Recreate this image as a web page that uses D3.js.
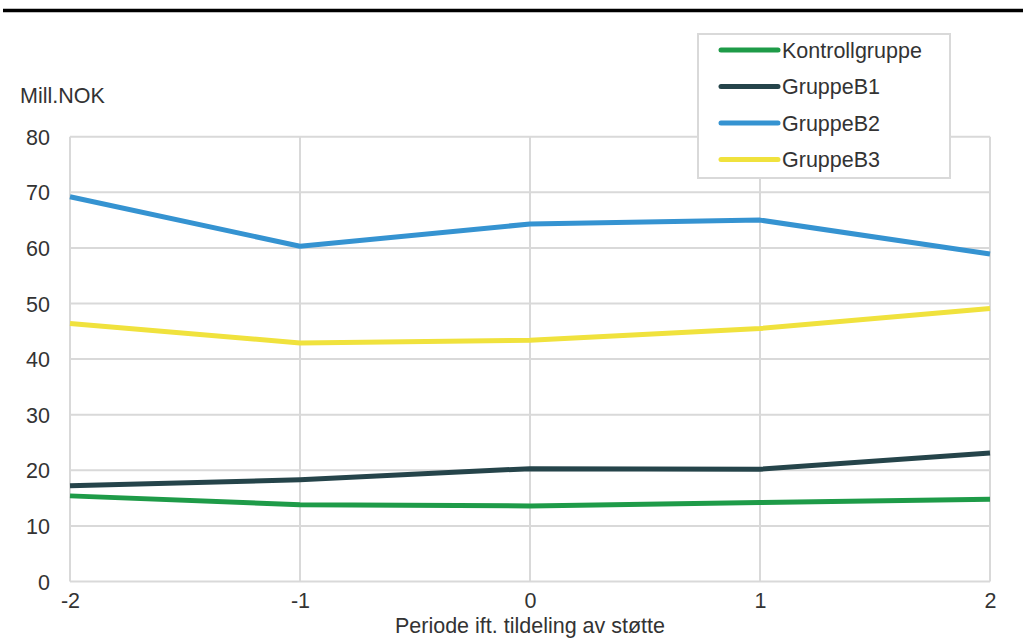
<!DOCTYPE html>
<html><head><meta charset="utf-8">
<script src="https://cdn.jsdelivr.net/npm/d3@7/dist/d3.min.js"></script>
<style>body{margin:0;background:#fff}svg{display:block}text{font-family:"Liberation Sans",Arial,sans-serif;fill:#333}</style>
</head><body><svg id="c" width="1023" height="639"></svg>
<script>
const periods = [-2, -1, 0, 1, 2];
const seriesNames = ["Kontrollgruppe", "GruppeB1", "GruppeB2", "GruppeB3"];
const kontroll = [15.4, 13.8, 13.6, 14.2, 14.8];
const gruppeB1 = [17.2, 18.3, 20.3, 20.2, 23.1];
const gruppeB2 = [69.2, 60.3, 64.3, 65.0, 58.9];
const gruppeB3 = [46.4, 42.9, 43.4, 45.5, 49.1];
const yTicks = [0, 10, 20, 30, 40, 50, 60, 70, 80];
const colors = ["#1e9b48", "#25444a", "#3593d1", "#f0e23d"];
const yLabel = "Mill.NOK";
const xLabel = "Periode ift. tildeling av støtte";

const svg = d3.select("#c");
const x = d3.scaleLinear().domain([-2, 2]).range([70, 990]);
const y = d3.scaleLinear().domain([0, 80]).range([581.5, 136.7]);
const FS = "21.5px";

// top rule
svg.append("line").attr("x1", 3).attr("x2", 1023).attr("y1", 10.5).attr("y2", 10.5)
  .attr("stroke", "#000").attr("stroke-width", 3.5);

// grid
const g = svg.append("g");
g.selectAll(".h").data(yTicks).join("line")
  .attr("x1", x(-2)).attr("x2", x(2)).attr("y1", d => y(d)).attr("y2", d => y(d))
  .attr("stroke", "#d9d9d9").attr("stroke-width", 2);
g.selectAll(".v").data(periods).join("line")
  .attr("x1", d => x(d)).attr("x2", d => x(d)).attr("y1", y(0)).attr("y2", y(80))
  .attr("stroke", "#d9d9d9").attr("stroke-width", 2);

// axes labels
const yAxis = d3.axisLeft(y).tickValues(yTicks).tickSize(0).tickPadding(0);
const ya = svg.append("g").attr("transform", "translate(50,0)").call(yAxis);
ya.select(".domain").remove();
ya.selectAll("text").style("font-size", FS).attr("fill", "#333").attr("dy", "0.35em");

const xAxis = d3.axisBottom(x).tickValues(periods).tickSize(0).tickPadding(0).tickFormat(d3.format("d"));
const xa = svg.append("g").attr("transform", "translate(0,608)").call(xAxis);
xa.select(".domain").remove();
xa.selectAll("text").style("font-size", FS).attr("fill", "#333").attr("dy", "0")
  .text(d => d < 0 ? "-" + Math.abs(d) : d);

svg.append("text").attr("x", 20).attr("y", 103).style("font-size", FS).text(yLabel);
svg.append("text").attr("x", x(0)).attr("y", 633).attr("text-anchor", "middle").style("font-size", FS).text(xLabel);

// lines
const data = [kontroll, gruppeB1, gruppeB2, gruppeB3];
const line = d3.line().x((d, i) => x(periods[i])).y(d => y(d));
svg.selectAll(".s").data(data).join("path")
  .attr("d", line).attr("fill", "none").attr("stroke", (d, i) => colors[i])
  .attr("stroke-width", 5).attr("stroke-linejoin", "round").attr("stroke-linecap", "butt");

// legend
const lg = svg.append("g");
lg.append("rect").attr("x", 698).attr("y", 34).attr("width", 252).attr("height", 144)
  .attr("fill", "#fff").attr("stroke", "#d9d9d9").attr("stroke-width", 2);
const items = lg.selectAll(".li").data(seriesNames).join("g")
  .attr("transform", (d, i) => `translate(0,${50 + i * 36.5})`);
items.append("line").attr("x1", 721).attr("x2", 778).attr("y1", 0).attr("y2", 0)
  .attr("stroke", (d, i) => colors[i]).attr("stroke-width", 5).attr("stroke-linecap", "round");
items.append("text").attr("x", 782).attr("y", 0).attr("dy", "0.35em").style("font-size", FS).text(d => d);
</script></body></html>
